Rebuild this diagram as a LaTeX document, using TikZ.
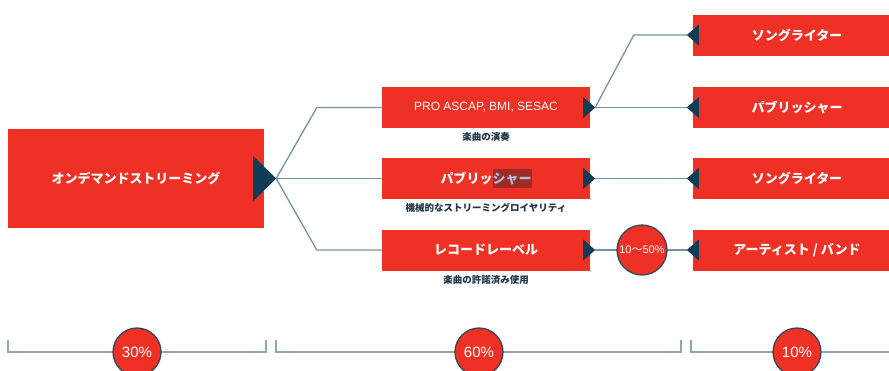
\documentclass[tikz,border=0pt]{standalone}
\usepackage{fontspec}
\setmainfont{Liberation Sans}
\newfontfamily\jp{Noto Sans CJK JP}
\definecolor{boxred}{HTML}{EE3124}
\definecolor{tric}{HTML}{0F3D55}
\definecolor{linec}{HTML}{7393A2}
\definecolor{navy}{HTML}{1D3446}
\definecolor{ringc}{HTML}{2C4A5C}
\definecolor{brc}{HTML}{8FA7B3}
\definecolor{hlbg}{HTML}{9E2B25}
\definecolor{hlfg}{HTML}{A9C2E4}
\tikzset{
  redbox/.style={fill=boxred, draw=none, minimum width=208pt, minimum height=41pt, inner sep=0pt, text=white, font=\jp\bfseries\fontsize{13}{16}\selectfont},
  conn/.style={draw=linec, line width=1.3pt},
  tri/.style={fill=tric},
  sublabel/.style={text=navy, font=\jp\bfseries\fontsize{9.5}{11}\selectfont, inner sep=0pt},
  pct/.style={circle, fill=boxred, draw=ringc, line width=1.3pt, minimum size=48pt, inner sep=0pt, text=white, font=\fontsize{15}{17}\selectfont},
  bracket/.style={draw=brc, line width=1.2pt}
}
\begin{document}
\begin{tikzpicture}[x=1pt,y=-1pt]
\useasboundingbox (0,0) rectangle (889,370);
\clip (0,0) rectangle (889,370);
% boxes
\node[redbox, minimum width=256pt, minimum height=99pt] (big) at (136,178.5) {オンデマンドストリーミング};
\node[redbox, font=\fontsize{12}{14}\selectfont] (m1) at (486,107.5) {PRO ASCAP, BMI, SESAC};
\node[redbox] (m2) at (486,178.5) {パブリッ{\setlength\fboxsep{0pt}\colorbox{hlbg}{\rule[-4.5pt]{0pt}{19pt}\textcolor{hlfg}{シャー}}}};
\node[redbox] (m3) at (486,250) {レコードレーベル};
\node[redbox] (r1) at (797,35) {ソングライター};
\node[redbox] (r2) at (797,107.5) {パブリッシャー};
\node[redbox] (r3) at (797,178.5) {ソングライター};
\node[redbox] (r4) at (797,250) {アーティスト / バンド};
% sub labels
\node[sublabel] (l1) at (486,137) {楽曲の演奏};
\node[sublabel] (l2) at (486,208) {機械的なストリーミングロイヤリティ};
\node[sublabel] (l3) at (486,280) {楽曲の許諾済み使用};
% tips
\coordinate (bt) at ([xshift=12pt]big.east);
\coordinate (m1t) at ([xshift=5pt]m1.east);
\coordinate (m2t) at ([xshift=5pt]m2.east);
\coordinate (m3t) at ([xshift=5pt]m3.east);
\coordinate (r1t) at ([xshift=-6pt]r1.west);
\coordinate (r2t) at ([xshift=-6pt]r2.west);
\coordinate (r3t) at ([xshift=-6pt]r3.west);
\coordinate (r4t) at ([xshift=-6pt]r4.west);
% connectors
\draw[conn] (bt) -- ([xshift=-65pt]m1.west) -- (m1.west);
\draw[conn] (bt) -- (m2.west);
\draw[conn] (bt) -- ([xshift=-65pt]m3.west) -- (m3.west);
\draw[conn] (m1t) -- ([xshift=-53pt]r1t) -- (r1t);
\draw[conn] (m1t) -- (r2t);
\draw[conn] (m2t) -- (r3t);
\draw[conn] (m3t) -- (r4t);
\node[pct, minimum size=50pt, font=\fontsize{11}{13}\selectfont] (c1) at (642,250) {10{\jp ～}50\%};
% triangles
\fill[tri] ([shift={(-11,-22.5)}]big.east) -- ([shift={(-11,22.5)}]big.east) -- (bt) -- cycle;
\foreach \m in {m1,m2,m3}{
  \fill[tri] ([shift={(-7,-10.5)}]\m.east) -- ([shift={(-7,10.5)}]\m.east) -- (\m t) -- cycle;
}
\foreach \r in {r1,r2,r3,r4}{
  \fill[tri] ([shift={(6,-10.5)}]\r.west) -- ([shift={(6,10.5)}]\r.west) -- (\r t) -- cycle;
}
% brackets
\draw[bracket] (8,340) -- (8,352) -- (266,352) -- (266,340);
\draw[bracket] (276,340) -- (276,352) -- (681,352) -- (681,340);
\draw[bracket] (691,340) -- (691,352) -- (895,352);
\node[pct] (p1) at (137,352) {30\%};
\node[pct] (p2) at (479,352) {60\%};
\node[pct] (p3) at (797,352) {10\%};
\end{tikzpicture}
\end{document}
